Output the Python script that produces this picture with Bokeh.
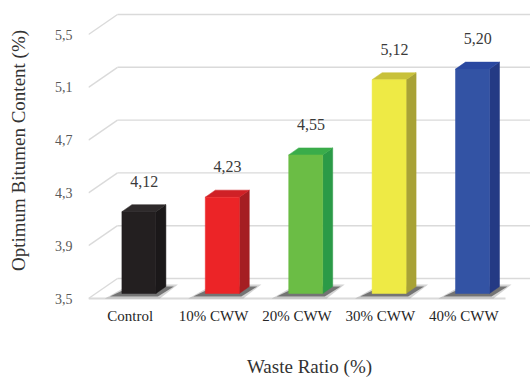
from bokeh.plotting import figure
from bokeh.models import FixedTicker, Range1d, ColumnDataSource
from bokeh.core.properties import value
from bokeh.embed import file_html
from bokeh.resources import INLINE

# ---- data ----
categories = ["Control", "10% CWW", "20% CWW", "30% CWW", "40% CWW"]
values = [4.12, 4.23, 4.55, 5.12, 5.20]
value_labels = ["4,12", "4,23", "4,55", "5,12", "5,20"]
y_ticks = [3.5, 3.9, 4.3, 4.7, 5.1, 5.5]
y_tick_labels = ["3,5", "3,9", "4,3", "4,7", "5,1", "5,5"]
front_colors = ["#231f20", "#ec2427", "#6bbd45", "#eeea45", "#3353a4"]
side_colors = ["#1b1819", "#a51e22", "#2b9a47", "#a8a236", "#243a84"]
top_colors = ["#2e2a2b", "#cf2126", "#3aac4a", "#c8c13a", "#2a48a0"]

# ---- layout constants (pixels) ----
W, H = 530, 380
BL, BB = 88, 80
FW, FH = W - BL, H - BB
PX_X = 83.4      # pixels per category
PX_Y = 132.0     # pixels per value unit
BASE = 3.5
FONT = "Liberation Serif"

kx = 1.0 / PX_X
ky = 1.0 / PX_Y
x_start = -0.5
x_end = x_start + FW * kx
y_start = BASE - 2 * ky
y_end = y_start + FH * ky

# wall depth
WDX, WDY = 29 * kx, 20 * ky
# bar geometry
FL, FR = -8.3 * kx, 25.7 * kx     # front face left/right rel. to category
FDY = 5 * ky                       # front face raised (depth)
BDX, BDY = 10 * kx, 7 * ky         # bar depth

p = figure(width=W, height=H, x_range=Range1d(x_start, x_end),
           y_range=Range1d(y_start, y_end),
           min_border_left=BL, min_border_bottom=BB, min_border_top=0,
           min_border_right=0, output_backend="svg", toolbar_location=None)
p.outline_line_color = None
p.xgrid.visible = False
p.ygrid.visible = False
p.background_fill_color = "white"
p.border_fill_color = "white"

grid_col = "#dadada"
n = len(categories)
# left wall diagonals and back wall lines
p.segment(x0=[x_start] * len(y_ticks), y0=y_ticks,
          x1=[x_start + WDX] * len(y_ticks), y1=[t + WDY for t in y_ticks],
          line_color=grid_col, line_width=1.4)
p.segment(x0=[x_start + WDX] * len(y_ticks), y0=[t + WDY for t in y_ticks],
          x1=[n - 0.5 + WDX] * len(y_ticks), y1=[t + WDY for t in y_ticks],
          line_color=grid_col, line_width=1.4)
# front floor edge
p.segment(x0=[x_start], y0=[BASE], x1=[n - 0.5], y1=[BASE],
          line_color=grid_col, line_width=1.8)

# ---- bars ----
xs = list(range(n))
L = [i + FL for i in xs]
R = [i + FR for i in xs]
b = BASE + FDY
T = [v + FDY for v in values]

# shadows
sh_out_x, sh_out_y, sh_in_x, sh_in_y = [], [], [], []
for i in range(n):
    sh_out_x.append([L[i] - 17 * kx, R[i] + 4 * kx, R[i] + BDX + 12 * kx, L[i] + BDX - 2 * kx])
    sh_out_y.append([b - 5 * ky, b - 5 * ky, b + BDY + 2 * ky, b + BDY + 2 * ky])
    sh_in_x.append([L[i] - 12 * kx, R[i] + 2 * kx, R[i] + BDX + 8 * kx, L[i] + BDX - 1 * kx])
    sh_in_y.append([b - 3 * ky, b - 3 * ky, b + BDY, b + BDY])
p.patches(xs=sh_out_x, ys=sh_out_y, fill_color="#555555", fill_alpha=0.25, line_color=None)
p.patches(xs=sh_in_x, ys=sh_in_y, fill_color="#333333", fill_alpha=0.6, line_color=None)

side_x = [[R[i], R[i] + BDX, R[i] + BDX, R[i]] for i in range(n)]
side_y = [[b, b + BDY, T[i] + BDY, T[i]] for i in range(n)]
top_x = [[L[i], L[i] + BDX, R[i] + BDX, R[i]] for i in range(n)]
top_y = [[T[i], T[i] + BDY, T[i] + BDY, T[i]] for i in range(n)]

p.patches(xs=side_x, ys=side_y, fill_color=side_colors, line_color=side_colors, line_width=0.5)
p.patches(xs=top_x, ys=top_y, fill_color=top_colors, line_color=top_colors, line_width=0.5)
p.quad(left=L, right=R, bottom=[b] * n, top=T, fill_color=front_colors,
       line_color=front_colors, line_width=0.5)

# value labels
src = ColumnDataSource(dict(x=[i + 14 * kx for i in xs],
                            y=[v + FDY + 25 * ky for v in values],
                            t=value_labels))
p.text(x="x", y="y", text="t", source=src, text_font=value(FONT),
       text_font_size="16px", text_align="center", text_baseline="bottom",
       text_color="#3a3a3a")

# ---- axes ----
ya = p.yaxis[0]
ya.ticker = FixedTicker(ticks=y_ticks)
ya.major_label_overrides = dict(zip(y_ticks, y_tick_labels))
ya.axis_line_color = None
ya.major_tick_line_color = None
ya.minor_tick_line_color = None
ya.major_label_standoff = 10
ya.major_label_text_font = FONT
ya.major_label_text_font_size = "14px"
ya.major_label_text_color = "#595959"
ya.axis_label = "Optimum Bitumen Content (%)"
ya.axis_label_text_font = FONT
ya.axis_label_text_font_size = "19px"
ya.axis_label_text_font_style = "normal"
ya.axis_label_text_color = "#333333"
ya.axis_label_standoff = 23

xa = p.xaxis[0]
xa.ticker = FixedTicker(ticks=xs)
xa.major_label_overrides = dict(zip(xs, categories))
xa.axis_line_color = None
xa.major_tick_line_color = None
xa.minor_tick_line_color = None
xa.major_label_standoff = 1
xa.major_label_text_font = FONT
xa.major_label_text_font_size = "15px"
xa.major_label_text_color = "#262626"
xa.axis_label = "Waste Ratio (%)"
xa.axis_label_text_font = FONT
xa.axis_label_text_font_size = "19px"
xa.axis_label_text_font_style = "normal"
xa.axis_label_text_color = "#333333"
xa.axis_label_standoff = 29

open("out.html", "w").write(file_html(p, INLINE))
